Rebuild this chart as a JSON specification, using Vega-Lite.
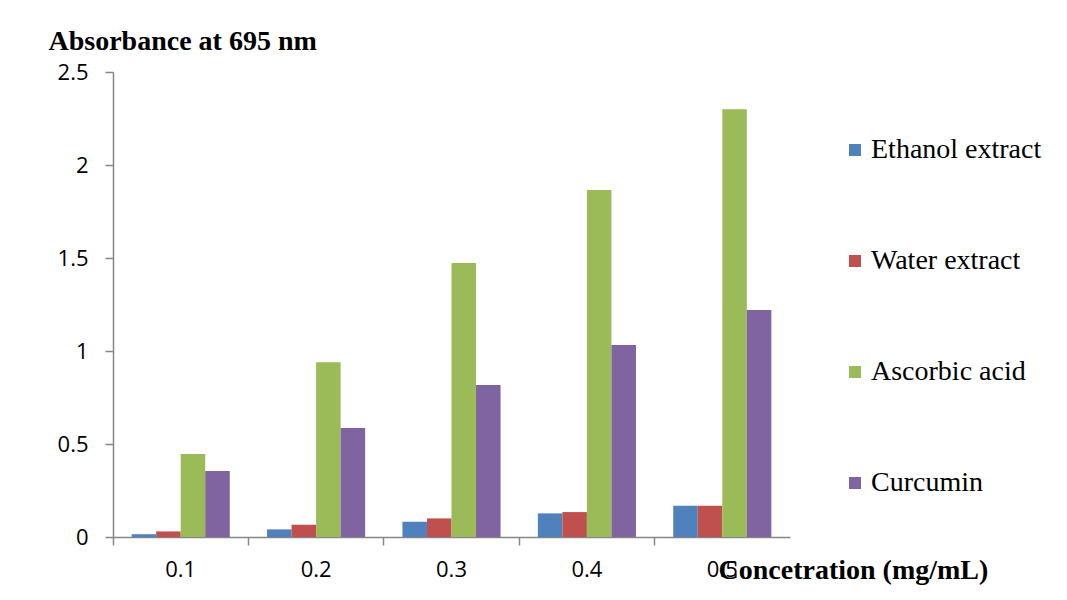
{
  "$schema": "https://vega.github.io/schema/vega-lite/v6.json",
  "width": 677,
  "height": 465,
  "autosize": {"type": "none"},
  "padding": {"left": 113, "top": 72, "right": 277, "bottom": 63},
  "background": "white",
  "config": {"view": {"stroke": null}},
  "data": {"values": [
    {"conc": "0.1", "series": "Ethanol extract", "value": 0.015},
    {"conc": "0.1", "series": "Water extract", "value": 0.03},
    {"conc": "0.1", "series": "Ascorbic acid", "value": 0.446},
    {"conc": "0.1", "series": "Curcumin", "value": 0.355},
    {"conc": "0.2", "series": "Ethanol extract", "value": 0.041},
    {"conc": "0.2", "series": "Water extract", "value": 0.066},
    {"conc": "0.2", "series": "Ascorbic acid", "value": 0.94},
    {"conc": "0.2", "series": "Curcumin", "value": 0.586},
    {"conc": "0.3", "series": "Ethanol extract", "value": 0.082},
    {"conc": "0.3", "series": "Water extract", "value": 0.10},
    {"conc": "0.3", "series": "Ascorbic acid", "value": 1.473},
    {"conc": "0.3", "series": "Curcumin", "value": 0.817},
    {"conc": "0.4", "series": "Ethanol extract", "value": 0.127},
    {"conc": "0.4", "series": "Water extract", "value": 0.134},
    {"conc": "0.4", "series": "Ascorbic acid", "value": 1.866},
    {"conc": "0.4", "series": "Curcumin", "value": 1.032},
    {"conc": "0.5", "series": "Ethanol extract", "value": 0.168},
    {"conc": "0.5", "series": "Water extract", "value": 0.168},
    {"conc": "0.5", "series": "Ascorbic acid", "value": 2.30},
    {"conc": "0.5", "series": "Curcumin", "value": 1.22}
  ]},
  "mark": {"type": "bar"},
  "encoding": {
    "x": {
      "field": "conc", "type": "nominal",
      "scale": {"paddingInner": 0, "paddingOuter": 0},
      "axis": {
        "title": "Concetration (mg/mL)",
        "titleFont": "Liberation Serif", "titleFontSize": 28, "titleFontWeight": "bold", "titleColor": "black",
        "titleAlign": "left", "titleBaseline": "alphabetic", "titleX": 605, "titleY": 41, "titleAnchor": null,
        "labelAngle": 0, "labelFont": "Open Sans", "labelFontSize": 22, "labelColor": "black",
        "labelPadding": 14, "bandPosition": 0,
        "domainColor": "#868686", "tickColor": "#868686", "tickSize": 8, "domainWidth": 1.5, "tickWidth": 1.5
      }
    },
    "xOffset": {
      "field": "series", "type": "nominal",
      "sort": ["Ethanol extract", "Water extract", "Ascorbic acid", "Curcumin"],
      "scale": {"paddingInner": 0, "paddingOuter": 0.76}
    },
    "y": {
      "field": "value", "type": "quantitative",
      "scale": {"domain": [0, 2.5]},
      "axis": {
        "title": "Absorbance at 695 nm",
        "titleFont": "Liberation Serif", "titleFontSize": 28, "titleFontWeight": "bold", "titleColor": "black",
        "titleAngle": 0, "titleAlign": "left", "titleBaseline": "alphabetic", "titleX": -65, "titleY": -23, "titleAnchor": null,
        "values": [0, 0.5, 1, 1.5, 2, 2.5], "format": "~g",
        "labelFont": "Open Sans", "labelFontSize": 22, "labelColor": "black", "labelPadding": 17,
        "grid": false, "domainColor": "#868686", "tickColor": "#868686", "tickSize": 8, "domainWidth": 1.5, "tickWidth": 1.5
      }
    },
    "color": {
      "field": "series", "type": "nominal",
      "sort": ["Ethanol extract", "Water extract", "Ascorbic acid", "Curcumin"],
      "scale": {"domain": ["Ethanol extract", "Water extract", "Ascorbic acid", "Curcumin"], "range": ["#4F81BD", "#C0504D", "#9BBB59", "#8064A2"]},
      "legend": {
        "title": null, "orient": "none", "legendX": 728, "legendY": 64, "padding": 0,
        "symbolType": "square", "symbolSize": 144, "symbolStrokeWidth": 0,
        "labelFont": "Liberation Serif", "labelFontSize": 28, "labelColor": "black", "labelOffset": 2,
        "rowPadding": 83, "labelLimit": 400
      }
    }
  }
}
